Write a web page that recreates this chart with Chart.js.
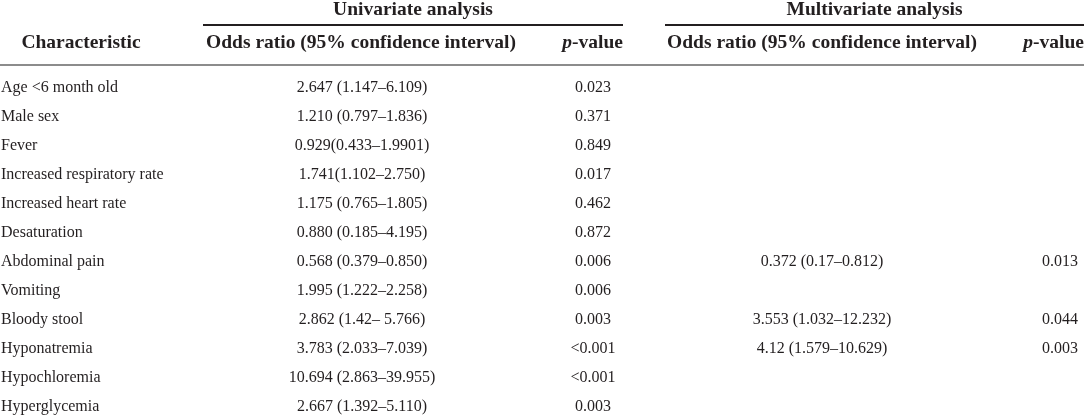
<!DOCTYPE html>
<html>
<head>
<meta charset="utf-8">
<script src="https://cdn.jsdelivr.net/npm/chart.js@4.4.1/dist/chart.umd.min.js"></script>
<style>
  html, body { margin: 0; padding: 0; background: #fff; }
  #wrap { width: 1084px; height: 418px; position: relative; }
</style>
</head>
<body>
<div id="wrap"><canvas id="tbl"></canvas></div>
<script>
// table data
var characteristics = [
  'Age <6 month old', 'Male sex', 'Fever', 'Increased respiratory rate',
  'Increased heart rate', 'Desaturation', 'Abdominal pain', 'Vomiting',
  'Bloody stool', 'Hyponatremia', 'Hypochloremia', 'Hyperglycemia'
];
var uniOR = [
  '2.647 (1.147\u20136.109)', '1.210 (0.797\u20131.836)', '0.929(0.433\u20131.9901)',
  '1.741(1.102\u20132.750)', '1.175 (0.765\u20131.805)', '0.880 (0.185\u20134.195)',
  '0.568 (0.379\u20130.850)', '1.995 (1.222\u20132.258)', '2.862 (1.42\u2013 5.766)',
  '3.783 (2.033\u20137.039)', '10.694 (2.863\u201339.955)', '2.667 (1.392\u20135.110)'
];
var uniP = ['0.023', '0.371', '0.849', '0.017', '0.462', '0.872',
  '0.006', '0.006', '0.003', '<0.001', '<0.001', '0.003'];
var multiOR = [null, null, null, null, null, null,
  '0.372 (0.17\u20130.812)', null, '3.553 (1.032\u201312.232)', '4.12 (1.579\u201310.629)', null, null];
var multiP = [null, null, null, null, null, null,
  '0.013', null, '0.044', '0.003', null, null];
var groupTitles = ['Univariate analysis', 'Multivariate analysis'];

// layout (pixels on the x scale, 0..1084)
var colX = [1, 362, 593, 822, 1060];
var colAlign = ['left', 'center', 'center', 'center', 'center'];
var columns = [characteristics, uniOR, uniP, multiOR, multiP];

var ink = '#231f20';
var bodyFont = '16px "Liberation Serif", "DejaVu Serif", serif';
var headFont = 'bold 19.5px "Liberation Serif", "DejaVu Serif", serif';
var headItalic = 'italic bold 19.5px "Liberation Serif", "DejaVu Serif", serif';

var datasets = columns.map(function (col, c) {
  return {
    label: 'col' + c,
    data: col.map(function (v, i) {
      return { x: colX[c], y: characteristics[i], text: v };
    }).filter(function (p) { return p.text !== null; }),
    pointRadius: 0,
    pointHoverRadius: 0
  };
});

var tablePlugin = {
  id: 'tableText',
  afterDatasetsDraw: function (chart) {
    var ctx = chart.ctx;
    var xs = chart.scales.x;
    var top = chart.chartArea.top;
    ctx.save();
    ctx.fillStyle = ink;
    ctx.textBaseline = 'middle';

    // cells
    ctx.font = bodyFont;
    chart.data.datasets.forEach(function (ds, c) {
      var meta = chart.getDatasetMeta(c);
      ctx.textAlign = colAlign[c];
      meta.data.forEach(function (el, j) {
        ctx.fillText(ds.data[j].text, el.x, el.y);
      });
    });

    // group titles and rules
    var groups = [[203, 623], [665, 1084]];
    ctx.font = headFont;
    ctx.textAlign = 'center';
    groups.forEach(function (g, k) {
      var a = xs.getPixelForValue(g[0]), b = xs.getPixelForValue(g[1]);
      ctx.fillText(groupTitles[k], (a + b) / 2, top - 78);
      ctx.fillRect(a, top - 64, b - a, 2);
    });

    // column headers
    var hy = top - 45;
    ctx.fillText('Characteristic', xs.getPixelForValue(81), hy);
    ctx.fillText('Odds ratio (95% confidence interval)', xs.getPixelForValue(361), hy);
    ctx.fillText('Odds ratio (95% confidence interval)', xs.getPixelForValue(822), hy);
    [623, 1084].forEach(function (right) {
      var rx = xs.getPixelForValue(right);
      ctx.textAlign = 'right';
      ctx.font = headFont;
      var w = ctx.measureText('-value').width;
      ctx.fillText('-value', rx, hy);
      ctx.font = headItalic;
      ctx.fillText('p', rx - w, hy);
    });

    // rule under headers
    ctx.fillStyle = '#8c8c8c';
    ctx.fillRect(0, top - 24, chart.width, 2);
    ctx.restore();
  }
};

var chart = new Chart(document.getElementById('tbl'), {
  type: 'scatter',
  data: { datasets: datasets },
  options: {
    responsive: true,
    maintainAspectRatio: false,
    animation: false,
    events: [],
    layout: { padding: { top: 88, bottom: 11, left: 0, right: 0 } },
    plugins: { legend: { display: false }, tooltip: { enabled: false } },
    scales: {
      x: { type: 'linear', min: 0, max: 1084, display: false },
      y: { type: 'category', labels: characteristics, offset: false, display: false }
    }
  },
  plugins: [tablePlugin]
});
</script>
</body>
</html>
